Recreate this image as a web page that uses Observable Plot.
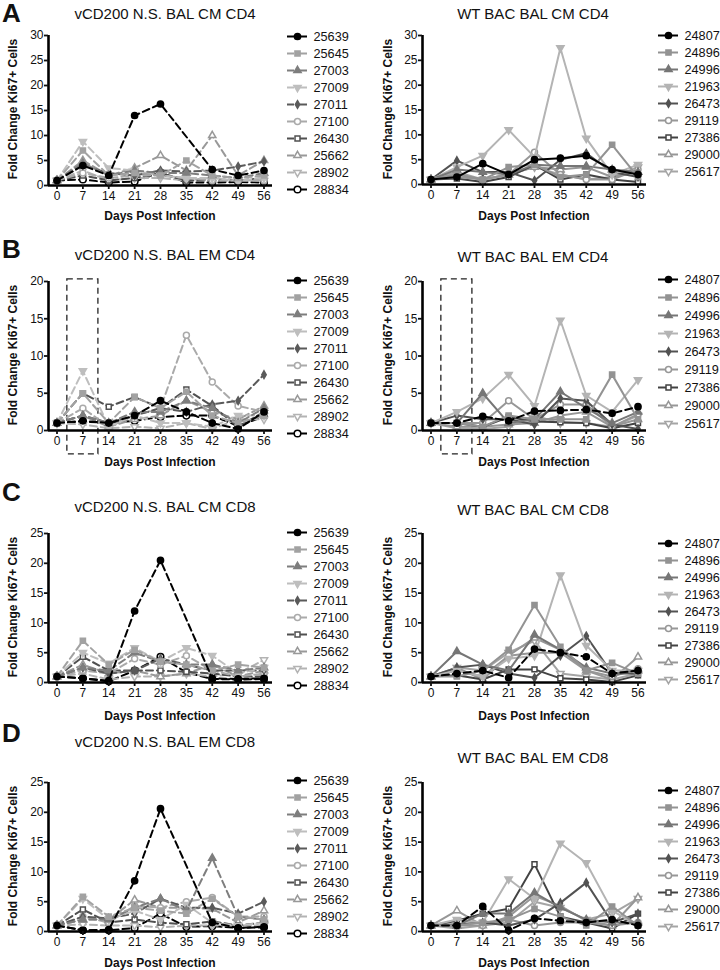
<!DOCTYPE html>
<html><head><meta charset="utf-8">
<script src="https://cdn.jsdelivr.net/npm/d3@7"></script>
<script src="https://cdn.jsdelivr.net/npm/@observablehq/plot@0.6"></script>
<style>
body{margin:0;background:#fff;}
#fig{position:relative;width:720px;height:970px;overflow:hidden;font-family:"Liberation Sans",Arial,sans-serif;color:#111;}
.abs{position:absolute;line-height:1;white-space:nowrap;}
.ctr{transform:translate(-50%,-50%);}
.title{font-size:15px;}
.letter{font-size:26px;font-weight:bold;line-height:1.05;}
.xlab{font-size:12px;font-weight:bold;}
.ylab{font-size:12px;font-weight:bold;transform:translate(-50%,-50%) rotate(-90deg);}
svg{position:absolute;overflow:visible;}
</style></head>
<body><div id="fig"></div>
<script>
// ---------- data ----------
const days = [0, 7, 14, 21, 28, 35, 42, 49, 56];
const vcd200Ids = ["25639","25645","27003","27009","27011","27100","26430","25662","28902","28834"];
const wtIds = ["24807","24896","24996","21963","26473","29119","27386","29000","25617"];

const vcd200CmCd4 = [
  [1, 4, 2, 14, 16.3, null, 3.2, 2, 3],
  [1, 7, 2, 2.5, 2, 5, 2, 1.5, 2],
  [1, 4.5, 2, 3, 2.5, 2.5, 2, 1.5, 2.5],
  [1, 8.8, 3.5, 3, 2, 1.5, 1.5, 1, 1.5],
  [1, 4, 2.5, 2, 3, 2.8, 3, 3.8, 4.8],
  [1, 2.5, 1.5, 2, 2, 1.5, 1, 1, 1],
  [1, 2, 1, 1.5, 2.5, 1, 1, 1, 1.5],
  [1, 5, 2, 3.5, 6, 3, 10, 2, 5],
  [1, 3, 1, 1.5, 1.5, 1, 1.5, 1, 1],
  [1, 1.2, 0.6, 0.8, 2.6, 0.6, 0.6, 0.7, 0.6]
];
const wtCmCd4 = [
  [1, 1.5, 4.2, 2, 5, 5.3, 5.8, 3, 2],
  [1, 2, 1, 3.5, 4, 1.5, 2, 8, 1.5],
  [1, 3, 2.5, 2, 4, 3.7, 3.7, 3, 2.5],
  [1, 3.5, 5.8, 11, 5.5, 27.5, 9.3, 2, 4],
  [1, 4.8, 2.5, 2.5, 0.8, 5, 6.3, 2.5, 1.5],
  [1, 1.5, 1, 2, 6.5, 2, 1, 1, 3],
  [1, 1.2, 0.5, 1.5, 4, 1, 2, 1, 0.5],
  [1, 2, 1, 2, 3.5, 3, 3.5, 1.5, 2.5],
  [1, 2.5, 1, 2, 3.5, 2, 1, 1.5, 3.5]
];
const vcd200EmCd4 = [
  [1, 1.3, 1, 2, 4, 2.5, 1, 0.2, 2.5],
  [1, 5, 1, 4.5, 3, 5.2, 2, 1, 2],
  [1, 2, 1, 2.5, 2.5, 4, 3, 1, 3],
  [1, 8, 0.5, 2, 1, 1, 0.5, 2, 2],
  [1, 2, 1, 2, 3, 2.5, 3.5, 4, 7.5],
  [1, 3, 0.5, 2, 3, 12.8, 6.5, 3.3, 2.5],
  [1, 5, 3.2, 4.5, 3, 5.5, 3.3, 0.5, 2.5],
  [1, 2, 0.5, 1.5, 2, 4, 2.5, 1.5, 3.3],
  [1, 0.8, 0.3, 0.5, 0.3, 1, 0.2, 1.5, 1.5],
  [1, 1.2, 1, 1.3, 1.8, 2, 2, 0.6, 1.9]
];
const wtEmCd4 = [
  [1, 1, 1.9, 1.3, 2.6, 2.7, 2.8, 2.3, 3.2],
  [1, 1, 0.5, 2, 1.5, 1.5, 1.5, 7.5, 1.5],
  [1, 1, 5, 1, 1.5, 5.2, 3, 1, 2.5],
  [1, 2.5, 4.3, 7.5, 3.3, 14.8, 4.7, 2.5, 6.8],
  [1, 2, 1.5, 1.5, 0.8, 4.3, 4, 0.8, 0.2],
  [1, 1, 1, 4, 1.5, 3.5, 3.5, 0.5, 2.2],
  [1, 1, 0.5, 1.8, 1.2, 1.1, 1, 0.3, 1],
  [1, 0.5, 0.5, 0.8, 1, 2, 2.5, 0.5, 1.5],
  [1, 0.3, 0.2, 0.5, 2, 1, 1, 0.5, 2]
];
const vcd200CmCd8 = [
  [1, 0.7, 0.3, 12, 20.5, null, 0.7, 0.6, 0.7],
  [1, 7, 3, 5.5, 3.5, 3, 2, 3, 2.5],
  [1, 2.5, 2, 5, 3.5, 3, 3, 2, 2.5],
  [1, 5, 3.2, 5.8, 3.5, 5.8, 4.5, 1.5, 2.5],
  [1, 2.5, 1.5, 2, 4, 3, 2, 2, 2],
  [1, 2, 1.5, 4, 3, 4.5, 2, 1, 1.5],
  [1, 4.3, 2, 2, 2, 1.8, 1.5, 1, 1],
  [1, 3, 1.5, 2, 1, 1.5, 3, 1, 2],
  [1, 1.5, 0.5, 1, 1, 1.5, 1, 1.5, 3.8],
  [1, 0.7, 0.2, 2, 4.3, 1.7, 0.6, 0.5, 0.6]
];
const wtCmCd8 = [
  [1, 1.5, 2, 0.8, 5.6, 5, 4.3, 1.5, 2],
  [1, 1, 2, 5.5, 13, 6, 2, 3.3, 1.5],
  [1, 5.2, 3, 2, 8, 5.5, 2.5, 1.5, 2],
  [1, 2, 1, 4, 4.5, 18, 6.2, 2, 2],
  [1, 2.5, 3, 1.5, 0.8, 4.5, 7.8, 1.5, 1.5],
  [1, 2, 1, 4.5, 5, 5, 2, 1, 2.3],
  [1, 1.2, 0.5, 2.2, 2.2, 0.7, 0.5, 0.1, 1.2],
  [1, 2.5, 0.5, 4.5, 7.5, 5.5, 2, 0.5, 4.3],
  [1, 2.5, 2, 5, 7, 1.5, 1, 0.5, 1.5]
];
const vcd200EmCd8 = [
  [1, 0.2, 0.3, 8.5, 20.6, null, 1.5, 0.6, 0.8],
  [1, 5.8, 2.5, 4, 3.5, 3, 5.5, 2.5, 2],
  [1, 2, 2, 4, 5.5, 3.5, 12.3, 2.5, 2],
  [1, 5.5, 2, 3.5, 2, 4.5, 1.5, 1, 1.5],
  [1, 2.5, 2.2, 3, 5.5, 4, 4, 3, 5],
  [1, 2.5, 1.5, 4.3, 4, 5, 5.7, 2.5, 2.5],
  [1, 3.7, 1.5, 2, 1.5, 1.2, 1.7, 1, 1.5],
  [1, 2, 2, 5.3, 4, 4, 3.8, 1.5, 3.5],
  [1, 1.2, 1, 1, 0.7, 1, 1, 1, 1],
  [1, 0.2, 0.2, 0.6, 3, 0.8, 0.9, 0.6, 0.7]
];
const wtEmCd8 = [
  [1, 1, 4.2, 0.2, 2.2, 1.8, 1.5, 2, 1],
  [1, 1, 1.5, 2, 3.8, 2.5, 1, 4.2, 1],
  [1, 1, 3, 3, 6.5, 4, 2, 1.5, 1.5],
  [1, 2, 1.5, 8.8, 5.5, 14.8, 11.5, 3.5, 1],
  [1, 1.2, 1.5, 1, 2, 4.8, 8.2, 1.5, 3],
  [1, 1, 1, 2, 1, 1.5, 1.5, 1, 1.5],
  [1, 1.8, 3, 3.8, 11.3, 2.5, 1.5, 0.5, 3],
  [1, 3.5, 1, 2.5, 6, 4.3, 1.8, 1, 5.7],
  [1, 0.5, 1, 1.5, 5, 4, 2, 3, 5.5]
];
const highlightDay = [7];

// ---------- styles ----------
const triDown = {
  draw(context, size) {
    const y = -Math.sqrt(size / (Math.sqrt(3) * 3));
    context.moveTo(0, -y * 2);
    context.lineTo(-Math.sqrt(3) * y, y);
    context.lineTo(Math.sqrt(3) * y, y);
    context.closePath();
  }
};
const vStyles = [
  {color:"#000000", symbol:"circle", fill:true, r:3.1},
  {color:"#a2a2a2", symbol:"square", fill:true, r:2.9},
  {color:"#7e7e7e", symbol:"triangle", fill:true, r:2.7},
  {color:"#bebebe", symbol:triDown, fill:true, r:2.7},
  {color:"#5a5a5a", symbol:"diamond", fill:true, r:2.3},
  {color:"#aaaaaa", symbol:"circle", fill:false, r:3},
  {color:"#505050", symbol:"square", fill:false, r:2.8},
  {color:"#999999", symbol:"triangle", fill:false, r:2.7},
  {color:"#b3b3b3", symbol:triDown, fill:false, r:2.7},
  {color:"#000000", symbol:"circle", fill:false, r:3.3}
];
const wStyles = [
  {color:"#000000", symbol:"circle", fill:true, r:3.1},
  {color:"#939393", symbol:"square", fill:true, r:2.9},
  {color:"#767676", symbol:"triangle", fill:true, r:2.7},
  {color:"#b4b4b4", symbol:triDown, fill:true, r:2.7},
  {color:"#525252", symbol:"diamond", fill:true, r:2.3},
  {color:"#979797", symbol:"circle", fill:false, r:3},
  {color:"#434343", symbol:"square", fill:false, r:2.8},
  {color:"#979797", symbol:"triangle", fill:false, r:2.7},
  {color:"#a5a5a5", symbol:triDown, fill:false, r:2.7}
];

const panels = [
  {letter:"A", letterTop:0, title:"vCD200 N.S. BAL CM CD4", side:"L", ymax:30, ytop:35, y0:185, titleY:13, xlabY:216, legFirst:33.3, legLast:191.7, ids:vcd200Ids, values:vcd200CmCd4},
  {title:"WT BAC BAL CM CD4", side:"R", ymax:30, ytop:35, y0:184, titleY:12.5, xlabY:216, legFirst:33.3, legLast:173.3, ids:wtIds, values:wtCmCd4},
  {letter:"B", letterTop:236, title:"vCD200 N.S. BAL EM CD4", side:"L", ymax:20, ytop:281, y0:430, titleY:254, xlabY:462, legFirst:278.3, legLast:435, ids:vcd200Ids, values:vcd200EmCd4, box:true},
  {title:"WT BAC BAL EM CD4", side:"R", ymax:20, ytop:281, y0:430, titleY:256, xlabY:462, legFirst:278.3, legLast:423.3, ids:wtIds, values:wtEmCd4, box:true, firstDashed:true},
  {letter:"C", letterTop:479, title:"vCD200 N.S. BAL CM CD8", side:"L", ymax:25, ytop:533, y0:682, titleY:506, xlabY:716, legFirst:530, legLast:686.7, ids:vcd200Ids, values:vcd200CmCd8},
  {title:"WT BAC BAL CM CD8", side:"R", ymax:25, ytop:533, y0:682, titleY:509, xlabY:716, legFirst:540, legLast:681.7, ids:wtIds, values:wtCmCd8, firstDashed:true},
  {letter:"D", letterTop:720, title:"vCD200 N.S. BAL EM CD8", side:"L", ymax:25, ytop:782, y0:931, titleY:741, xlabY:963, legFirst:778.3, legLast:935.7, ids:vcd200Ids, values:vcd200EmCd8},
  {title:"WT BAC BAL EM CD8", side:"R", ymax:25, ytop:782, y0:931, titleY:757, xlabY:963, legFirst:787.7, legLast:928.3, ids:wtIds, values:wtEmCd8, firstDashed:true}
];

const fig = document.getElementById("fig");
const FONT = '"Liberation Sans", Arial, sans-serif';
const xDomain = [-2.3, 58.3];
const frameW = 224;

function addDiv(cls, text, left, top) {
  const d = document.createElement("div");
  d.className = "abs " + cls;
  d.textContent = text;
  d.style.left = left + "px";
  d.style.top = top + "px";
  fig.appendChild(d);
  return d;
}

function place(svg, left, top) {
  svg.style.left = left + "px";
  svg.style.top = top + "px";
  fig.appendChild(svg);
}

for (const p of panels) {
  const isL = p.side === "L";
  const styles = isL ? vStyles : wStyles;
  const axisX = isL ? 48 : 422;
  const svgLeft = isL ? 0 : 360;
  const ml = axisX - svgLeft;
  const padTop = 12, padBottom = 28;
  const svgTop = p.ytop - padTop;
  const height = (p.y0 - p.ytop) + padTop + padBottom;
  const width = ml + frameW + 6;

  const marks = [];
  if (p.box) {
    marks.push(Plot.rect(highlightDay, {
      x1: d => d - 4.2, x2: d => d + 4.2,
      y1: () => -p.ymax * 0.16, y2: () => p.ymax * 1.014,
      fill: "none", stroke: "#222", strokeWidth: 1.3, strokeDasharray: "6,4", clip: false
    }));
  }
  for (let i = p.ids.length - 1; i >= 0; i--) {
    const st = styles[i];
    const rows = days.map((d, j) => ({day: d, v: p.values[i][j]})).filter(r => r.v != null);
    const dashed = isL || (i === 0 && p.firstDashed);
    const lineOpts = {x: "day", y: "v", stroke: st.color, strokeWidth: 2};
    if (dashed) lineOpts.strokeDasharray = "7,4";
    marks.push(Plot.line(rows, lineOpts));
    marks.push(Plot.dot(rows, {
      x: "day", y: "v", symbol: st.symbol, r: st.r,
      fill: st.fill ? st.color : "white", stroke: st.color, strokeWidth: 1.5
    }));
  }
  marks.push(Plot.ruleY([0], {strokeWidth: 2.6, stroke: "#000"}));
  marks.push(Plot.ruleX([xDomain[0]], {strokeWidth: 2.6, stroke: "#000"}));
  marks.push(Plot.axisY({anchor: "left", ticks: d3.range(0, p.ymax + 1, 5), tickSize: 4, tickPadding: 1, fontSize: 12, strokeWidth: 1.8, label: null}));
  marks.push(Plot.axisX({anchor: "bottom", ticks: days, tickSize: 4, tickPadding: 2, fontSize: 12, strokeWidth: 1.8, label: null}));

  const svg = Plot.plot({
    width, height,
    marginLeft: ml, marginRight: width - ml - frameW,
    marginTop: padTop, marginBottom: padBottom,
    x: {domain: xDomain},
    y: {domain: [0, p.ymax]},
    style: {fontFamily: FONT, background: "transparent", color: "#111", overflow: "visible"},
    marks
  });
  place(svg, svgLeft, svgTop);

  // legend
  const legLeft = isL ? 287 : 658;
  const pad = 10;
  const legMarks = [];
  p.ids.forEach((id, i) => {
    const st = styles[i];
    const ro = {stroke: st.color, strokeWidth: 2};
    if (isL) ro.strokeDasharray = "7,6";
    legMarks.push(Plot.ruleY([id], ro));
    legMarks.push(Plot.dot([id], {y: d => d, symbol: st.symbol, r: st.r,
      fill: st.fill ? st.color : "white", stroke: st.color, strokeWidth: 1.5}));
  });
  legMarks.push(Plot.axisY({anchor: "right", tickSize: 0, tickPadding: 6, fontSize: 12.7, label: null}));
  const leg = Plot.plot({
    width: 20 + 70, height: (p.legLast - p.legFirst) + 2 * pad,
    marginLeft: 0, marginRight: 70, marginTop: pad, marginBottom: pad,
    x: {domain: [0, 1], axis: null},
    y: {type: "point", domain: p.ids, padding: 0},
    style: {fontFamily: FONT, background: "transparent", color: "#111", overflow: "visible"},
    marks: legMarks
  });
  place(leg, legLeft, p.legFirst - pad);

  // texts
  addDiv("title ctr", p.title, isL ? 165 : 533, p.titleY);
  addDiv("xlab ctr", "Days Post Infection", axisX + frameW / 2, p.xlabY);
  addDiv("ylab", "Fold Change Ki67+ Cells", isL ? 13 : 388, (p.ytop + p.y0) / 2 - 1);
  if (p.letter) addDiv("letter", p.letter, 2, p.letterTop);
}
</script>
</body></html>
